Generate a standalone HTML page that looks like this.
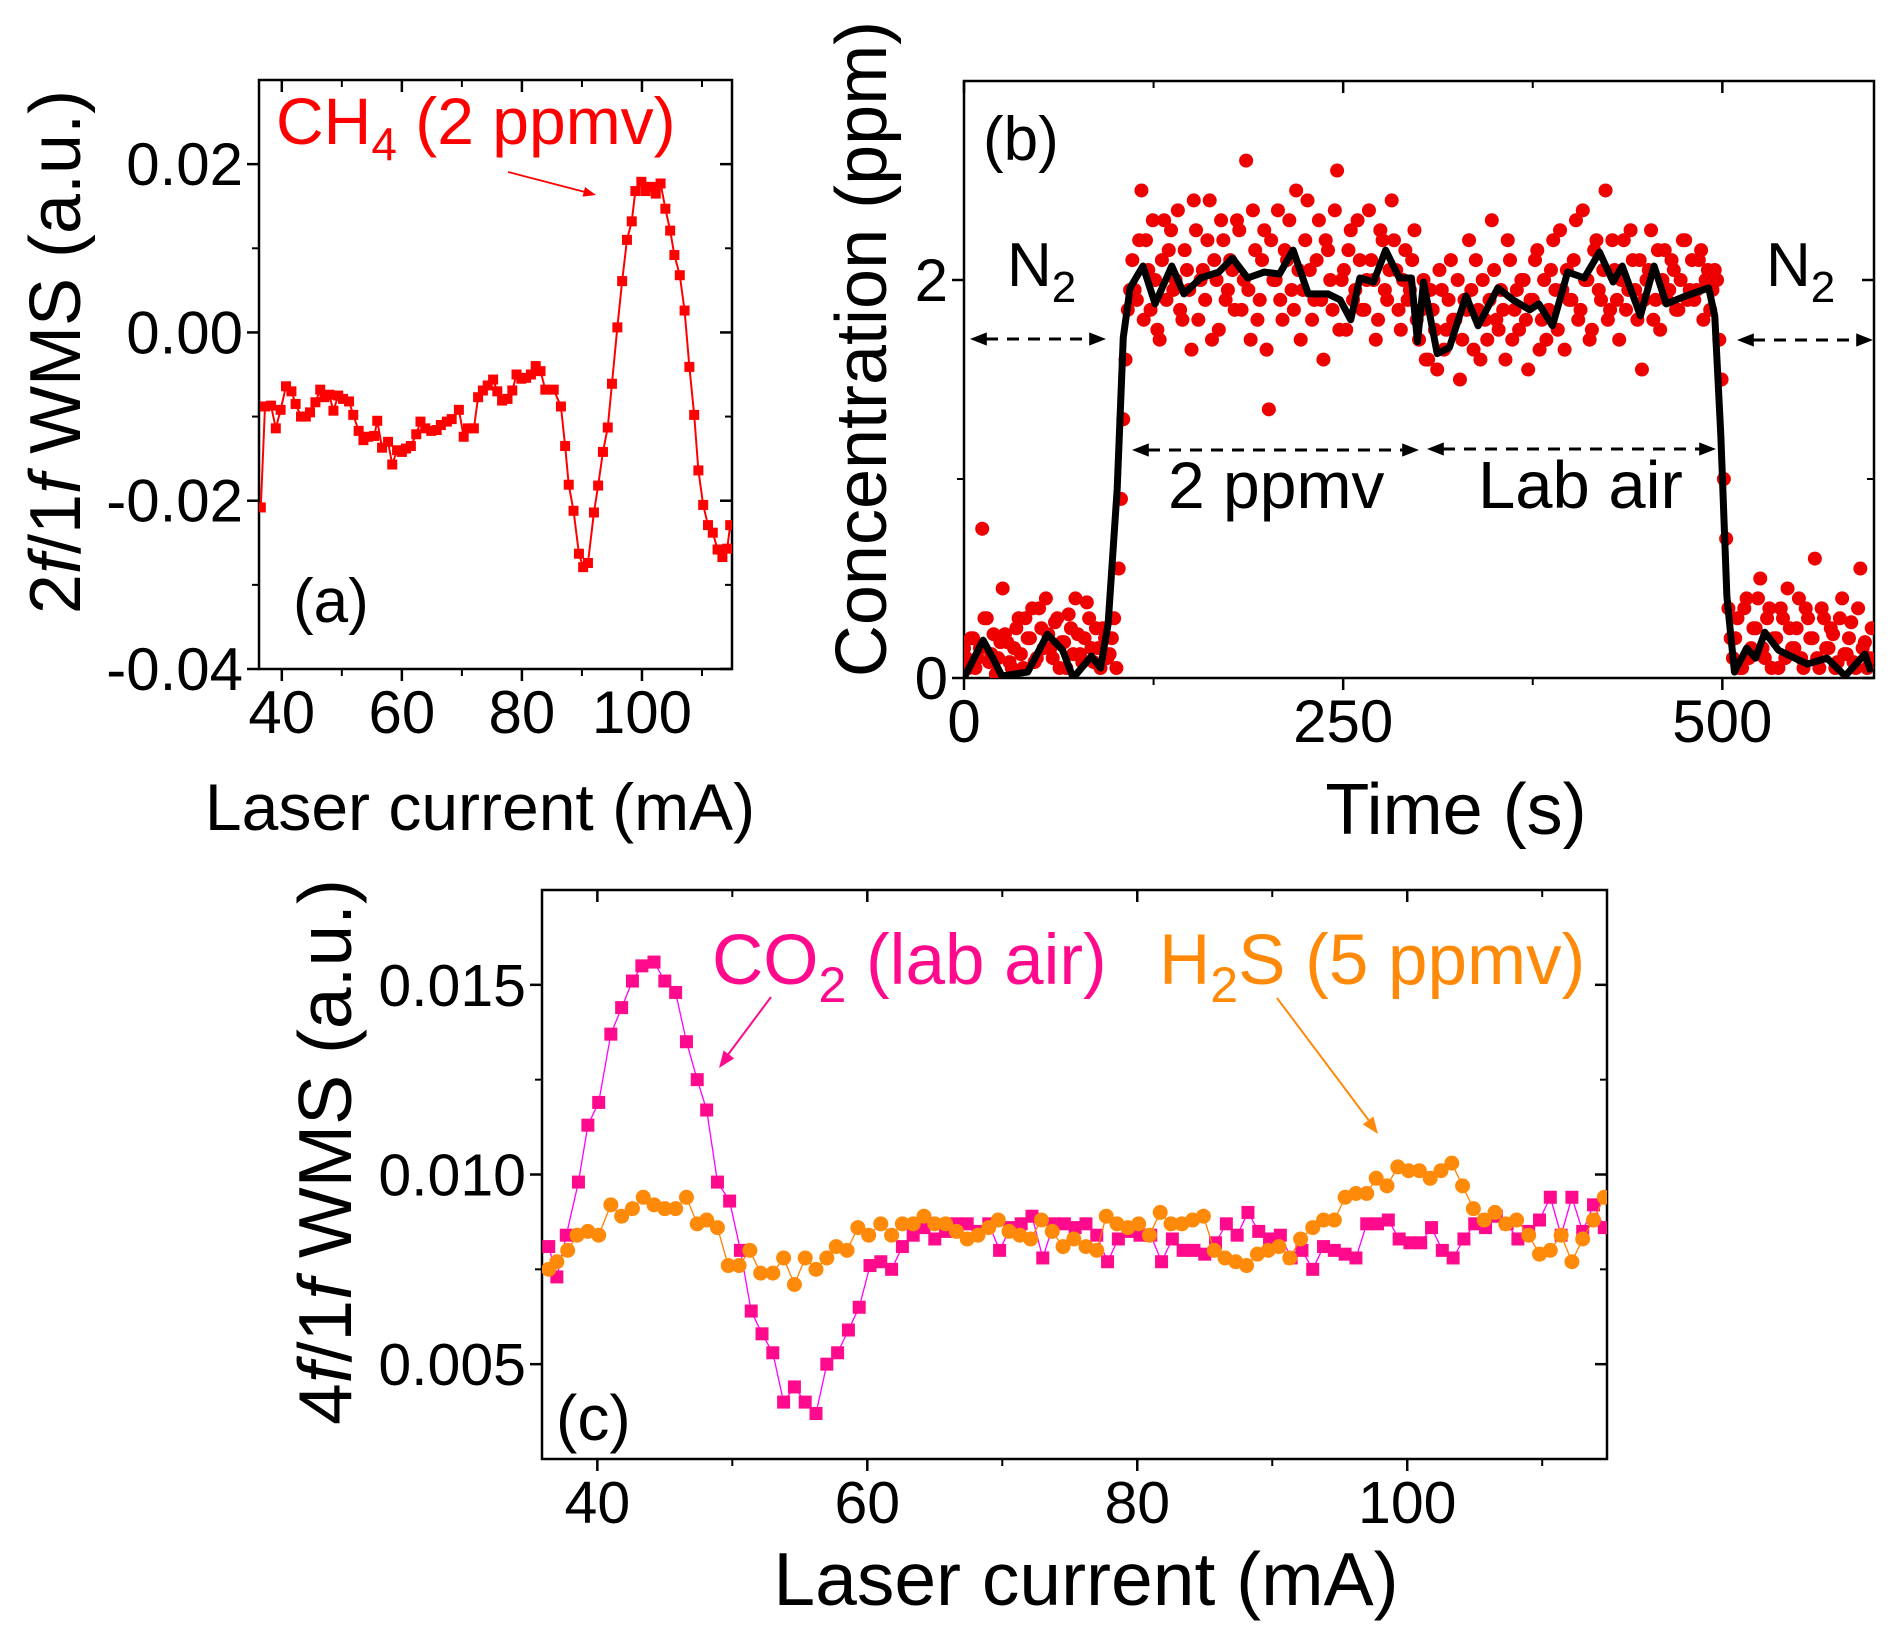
<!DOCTYPE html>
<html><head><meta charset="utf-8"><style>
html,body{margin:0;padding:0;background:#fff;}
svg{display:block;font-family:"Liberation Sans",Arial,sans-serif;}
</style></head>
<body>
<svg id="fig" width="1902" height="1638" viewBox="0 0 1902 1638" xmlns="http://www.w3.org/2000/svg"></svg>
<script>
// ---------- Panel (a) data ----------
const aX = [36.5,37.2,38.2,39,39.8,40.7,41.6,42.3,43.2,44,44.7,45.6,46.4,47.1,47.9,48.6,49.4,50.2,51.2,51.9,52.8,53.6,54.4,55.4,55.9,56.7,57.7,58.4,59.2,60,60.7,61.5,62.4,63.1,63.9,64.9,65.8,66.5,67.5,68.3,69.5,70.3,71,72,72.7,73.5,74.3,75.2,75.9,76.7,77.6,78.4,79.1,79.9,80.7,81.5,82.3,83.1,83.9,85.3,86.5,87.2,87.8,88.6,89.5,90.2,91,92,92.7,93.5,94.3,95,95.9,96.7,97.5,98.3,98.9,99.9,100.6,101.5,102.3,103.1,103.9,104.7,105.4,106.3,107.1,107.9,108.7,109.4,110.2,111,111.8,112.6,113.4,114.2,114.7];
const aY = [-0.0208,-0.0088,-0.0087,-0.0114,-0.0092,-0.0064,-0.0070,-0.0085,-0.0100,-0.0100,-0.0095,-0.0083,-0.0068,-0.0077,-0.0074,-0.0093,-0.0075,-0.0079,-0.0082,-0.0098,-0.0117,-0.0128,-0.0124,-0.0123,-0.0105,-0.0137,-0.0130,-0.0157,-0.0140,-0.0142,-0.0138,-0.0135,-0.0121,-0.0106,-0.0114,-0.0117,-0.0116,-0.0110,-0.0106,-0.0103,-0.0092,-0.0124,-0.0114,-0.0114,-0.0077,-0.0069,-0.0063,-0.0056,-0.0070,-0.0081,-0.0079,-0.0069,-0.0050,-0.0055,-0.0054,-0.0050,-0.0040,-0.0046,-0.0068,-0.0068,-0.0088,-0.0135,-0.0181,-0.0212,-0.0263,-0.0279,-0.0274,-0.0214,-0.0182,-0.0142,-0.0113,-0.0061,0.0006,0.0061,0.0110,0.0132,0.0168,0.0179,0.0168,0.0173,0.0165,0.0177,0.0147,0.0121,0.0092,0.0068,0.0026,-0.0041,-0.0098,-0.0164,-0.0205,-0.0229,-0.0238,-0.0258,-0.0267,-0.0257,-0.0229];
const aXTicks = [40,60,80,100];
const aXTickLabels = ["40","60","80","100"];
const aYTicks = [0.02,0.00,-0.02,-0.04];
const aYTickLabels = ["0.02","0.00","-0.02","-0.04"];

// ---------- Panel (b) data ----------
const bScatterStep = 3;
const bScatterV = [0.15,0.05,0.2,0.1,0.75,0.3,0.12,0.02,0.18,0.22,0.08,0.15,0.3,0.05,0.2,0.35,0.1,0.25,0.4,0.15,0.28,0.05,0.18,0.32,0.12,0.22,0.08,0.38,0.15,0.25,0.05,0.2,0.12,0.3,
0.55,1.3,1.85,
2.1,1.9,2.45,2.2,1.85,2.0,1.7,2.3,2.15,1.95,2.35,1.8,2.05,1.65,2.25,2.0,1.9,2.4,2.1,1.75,2.2,1.95,2.05,2.3,1.85,2.6,1.7,2.15,1.9,2.25,1.35,2.0,2.35,1.8,2.1,1.95,2.45,1.7,2.2,2.05,1.9,2.3,1.6,2.15,1.85,2.55,2.0,1.75,2.25,1.95,2.1,1.85,2.35,2.0,1.8,2.2,1.9,2.4,2.05,1.75,2.15,1.95,2.25,
1.7,2.0,1.6,1.85,1.55,1.95,1.75,2.1,1.8,1.5,1.9,2.2,1.65,1.85,2.0,1.7,2.3,1.8,1.95,1.6,2.1,1.85,1.75,2.0,1.55,1.9,2.15,1.8,1.7,2.05,1.95,2.25,1.65,1.9,2.1,1.8,2.35,2.0,1.75,2.2,1.9,2.45,1.85,2.05,1.7,2.2,1.95,2.1,1.8,1.55,2.0,2.25,1.9,1.75,2.15,1.95,2.05,1.85,2.2,1.9,2.1,1.95,2.15,2.0,1.85,2.05,
1.7,1.0,0.35,
0.1,0.3,0.05,0.4,0.15,0.25,0.5,0.1,0.35,0.2,0.05,0.3,0.45,0.15,0.25,0.1,0.35,0.2,0.6,0.05,0.3,0.15,0.22,0.08,0.4,0.12,0.28,0.05,0.55,0.18,0.1];
const bScatterOffset2 = 1.5;
const bScatterV2 = [0.1,0.2,0.05,0.15,0.3,0.08,0.22,0.1,0.45,0.18,0.05,0.25,0.12,0.3,0.2,0.08,0.35,0.15,0.22,0.1,0.3,0.18,0.05,0.25,0.4,0.12,0.2,0.3,0.08,0.15,0.25,0.1,0.2,0.05,
0.9,1.6,1.95,
1.95,2.2,1.8,2.05,2.3,1.75,2.1,1.9,2.25,2.0,1.85,2.15,1.95,2.4,1.8,2.05,2.2,1.7,2.0,2.3,1.9,2.1,1.85,2.25,2.0,1.95,2.35,1.8,2.1,1.65,2.2,2.0,1.9,2.15,2.3,1.85,2.05,1.95,2.4,1.8,2.1,1.9,2.2,2.0,2.35,1.75,2.05,2.15,1.9,2.3,1.85,2.0,2.1,1.7,2.25,1.95,2.05,2.2,1.85,2.0,1.9,2.1,1.8,
1.85,1.6,1.95,1.75,2.05,1.65,1.9,1.8,2.0,1.7,1.85,1.95,2.1,1.6,1.8,1.9,2.05,1.75,1.85,2.2,1.7,1.95,2.0,1.8,1.9,2.1,1.65,2.0,1.85,2.2,1.75,1.95,2.05,1.9,2.3,1.85,2.0,1.7,2.15,1.95,2.05,1.8,2.2,1.9,2.0,1.85,2.25,1.95,2.1,1.9,2.05,1.8,2.15,2.0,1.9,2.1,1.85,2.0,2.2,1.95,1.9,2.1,1.8,2.05,1.95,2.0,
1.5,0.7,0.2,
0.2,0.05,0.35,0.1,0.25,0.4,0.15,0.3,0.05,0.2,0.35,0.1,0.25,0.15,0.4,0.05,0.3,0.2,0.1,0.35,0.15,0.25,0.05,0.3,0.12,0.2,0.08,0.35,0.15,0.05,0.25];
const bLineT = [0,12.6,19,25,42,55,65,72,84,90,95,101,105,109.5,118,126,137,145,156,168,177,187,198,208,217,227,240,248,255,261,270,278,287,295,299,303,312,320,331,339,352,362,373,379,388,398,409,419,428,434,446,455,463,476,491,495,499,503,508,516,522,528,537,545,556,569,581,594,598];
const bLineV = [0,0.19,0.1,0.01,0.03,0.22,0.14,0,0.11,0.05,0.27,0.95,1.71,1.96,2.07,1.88,2.07,1.93,2.01,2.04,2.11,2.01,2.04,2.03,2.15,1.93,1.93,1.9,1.8,2.01,1.99,2.15,2.01,2.01,1.69,1.99,1.63,1.66,1.92,1.77,1.96,1.9,1.85,1.88,1.77,2.04,2.01,2.14,1.99,2.07,1.82,2.07,1.88,1.92,1.96,1.82,1.22,0.41,0.03,0.15,0.1,0.23,0.14,0.11,0.07,0.1,0.01,0.12,0.03];
const bXTicks = [0,250,500];
const bXTickLabels = ["0","250","500"];
const bYTicks = [0,2];
const bYTickLabels = ["0","2"];

// ---------- Panel (c) data ----------
const cCO2X = [36.4,37,37.7,38.6,39.3,40.1,41,41.8,42.6,43.3,44.2,45,45.8,46.6,47.4,48.1,48.9,49.8,50.6,51.4,52.2,53,53.8,54.6,55.4,56.2,57,57.8,58.6,59.4,60.2,61,61.8,62.6,63.4,64.2,65,65.8,66.6,67.4,68.2,69,69.8,70.6,71.4,72.2,73,73.8,74.6,75.4,76.2,77,77.8,78.6,79.4,80.2,81,81.8,82.6,83.4,84.2,85,85.8,86.6,87.4,88.2,89,89.8,90.6,91.4,92.2,93,93.8,94.6,95.4,96.2,97,97.8,98.6,99.4,100.2,101,101.8,102.6,103.4,104.2,105,105.8,106.6,107.4,108.2,109,109.8,110.6,111.4,112.2,113,113.8,114.6];
const cCO2Y = [0.0081,0.0073,0.0084,0.0098,0.0113,0.0119,0.0137,0.0144,0.0151,0.0155,0.0156,0.0151,0.0148,0.0135,0.0125,0.0117,0.0098,0.0093,0.0080,0.0064,0.0058,0.0053,0.0040,0.0044,0.0040,0.0037,0.0050,0.0053,0.0059,0.0065,0.0076,0.0077,0.0075,0.0081,0.0084,0.0086,0.0083,0.0085,0.0087,0.0087,0.0085,0.0087,0.0080,0.0086,0.0087,0.0089,0.0078,0.0087,0.0087,0.0086,0.0087,0.0084,0.0077,0.0083,0.0085,0.0084,0.0084,0.0077,0.0083,0.0080,0.0080,0.0079,0.0082,0.0087,0.0084,0.0090,0.0085,0.0083,0.0084,0.0078,0.0080,0.0075,0.0081,0.0080,0.0079,0.0078,0.0087,0.0087,0.0088,0.0083,0.0082,0.0082,0.0086,0.0080,0.0078,0.0083,0.0087,0.0086,0.0089,0.0087,0.0083,0.0085,0.0088,0.0094,0.0084,0.0094,0.0085,0.0092,0.0086];
const cH2SX = [36.4,37,37.8,38.5,39.3,40.1,41,41.8,42.6,43.4,44.2,45,45.8,46.6,47.4,48.1,48.9,49.7,50.5,51.3,52.1,53,53.8,54.6,55.4,56.2,57,57.7,58.5,59.3,60.1,61,61.8,62.6,63.4,64.2,65,65.8,66.6,67.4,68.2,69,69.7,70.5,71.3,72.1,72.9,73.7,74.5,75.3,76.2,77,77.7,78.5,79.3,80.1,80.9,81.7,82.5,83.3,84.1,84.9,85.7,86.5,87.3,88.1,88.9,89.7,90.5,91.3,92.1,93,93.8,94.6,95.4,96.2,97,97.7,98.5,99.3,100.1,100.9,101.7,102.5,103.3,104.1,104.9,105.7,106.5,107.3,108.1,109,109.8,110.6,111.4,112.2,113,113.8,114.6];
const cH2SY = [0.0075,0.0077,0.0080,0.0084,0.0085,0.0084,0.0092,0.0089,0.0091,0.0094,0.0092,0.0091,0.0091,0.0094,0.0087,0.0088,0.0086,0.0076,0.0076,0.0080,0.0074,0.0074,0.0078,0.0071,0.0078,0.0075,0.0078,0.0081,0.0080,0.0086,0.0084,0.0087,0.0084,0.0087,0.0087,0.0089,0.0087,0.0087,0.0085,0.0083,0.0084,0.0086,0.0088,0.0085,0.0084,0.0083,0.0088,0.0085,0.0081,0.0083,0.0081,0.0080,0.0089,0.0087,0.0086,0.0087,0.0084,0.0090,0.0087,0.0087,0.0088,0.0089,0.0080,0.0078,0.0077,0.0076,0.0079,0.0080,0.0081,0.0078,0.0083,0.0086,0.0088,0.0088,0.0094,0.0095,0.0095,0.0099,0.0097,0.0102,0.0101,0.0101,0.0099,0.0101,0.0103,0.0097,0.0091,0.0088,0.0090,0.0087,0.0088,0.0084,0.0079,0.0080,0.0084,0.0077,0.0083,0.0088,0.0094];
const cXTicks = [40,60,80,100];
const cXTickLabels = ["40","60","80","100"];
const cYTicks = [0.015,0.010,0.005];
const cYTickLabels = ["0.015","0.010","0.005"];

const NS = "http://www.w3.org/2000/svg";
const svg = document.getElementById('fig');
function mk(tag, attrs, parent){
  const e = document.createElementNS(NS, tag);
  for (const k in attrs) e.setAttribute(k, attrs[k]);
  (parent||svg).appendChild(e);
  return e;
}
function scale(d0,d1,r0,r1){ return v => r0 + (v-d0)/(d1-d0)*(r1-r0); }

function frame(g, L, T, R, B, xs, ys, xTicks, xLabels, xMinor, yTicks, yLabels, yMinor, fs){
  const fr = mk('rect',{x:L,y:T,width:R-L,height:B-T,fill:'none',stroke:'#000','stroke-width':2.5},g);
  
  
  xTicks.forEach((v,i)=>{
    const x = xs(v);
    mk('line',{x1:x,y1:B,x2:x,y2:B+12,stroke:'#000','stroke-width':2.5},g);
    mk('line',{x1:x,y1:T,x2:x,y2:T+12,stroke:'#000','stroke-width':2.5},g);
    const t = mk('text',{x:x,y:B+64,'font-size':fs,'text-anchor':'middle'},g);
    t.textContent = xLabels[i];
    
    
  });
  xMinor.forEach(v=>{
    const x = xs(v);
    mk('line',{x1:x,y1:B,x2:x,y2:B+7,stroke:'#000','stroke-width':2},g);
    mk('line',{x1:x,y1:T,x2:x,y2:T+7,stroke:'#000','stroke-width':2},g);
  });
  yTicks.forEach((v,i)=>{
    const y = ys(v);
    mk('line',{x1:L-12,y1:y,x2:L,y2:y,stroke:'#000','stroke-width':2.5},g);
    mk('line',{x1:R-12,y1:y,x2:R,y2:y,stroke:'#000','stroke-width':2.5},g);
    const t = mk('text',{x:L-16,y:y+21,'font-size':fs,'text-anchor':'end'},g);
    t.textContent = yLabels[i];
    
    
  });
  yMinor.forEach(v=>{
    const y = ys(v);
    mk('line',{x1:L-7,y1:y,x2:L,y2:y,stroke:'#000','stroke-width':2},g);
    mk('line',{x1:R-7,y1:y,x2:R,y2:y,stroke:'#000','stroke-width':2},g);
  });
}
function arrowHead(g, x, y, dir, color, size){
  const s = size||14;
  const bx = x - Math.cos(dir)*s*1.4, by = y - Math.sin(dir)*s*1.4;
  const px = -Math.sin(dir)*s*0.55, py = Math.cos(dir)*s*0.55;
  return mk('polygon',{points:`${x},${y} ${bx+px},${by+py} ${bx-px},${by-py}`,fill:color},g);
}

// ================= Panel (a) =================
const gA = mk('g',{});


const aL=259,aR=732,aT=80,aB=669;
const axs = scale(36.2,115,aL,aR), ays = scale(-0.04,0.03,aB,aT);
frame(gA,aL,aT,aR,aB,axs,ays,aXTicks,aXTickLabels,[50,70,90,110],aYTicks,aYTickLabels,[0.01,-0.01,-0.03],60);
{
  const clip = mk('clipPath',{id:'clipA'},gA);
  mk('rect',{x:aL,y:aT,width:aR-aL,height:aB-aT},clip);
  const s = mk('g',{'clip-path':'url(#clipA)'},gA);
  
  
  mk('polyline',{points:aX.map((x,i)=>axs(x)+','+ays(aY[i])).join(' '),fill:'none',stroke:'#ff0000','stroke-width':2},s);
  aX.forEach((x,i)=>{
    const r = mk('rect',{x:axs(x)-5,y:ays(aY[i])-5,width:10,height:10,fill:'#ff0000'},s);
    
    
  });
}
{
  const t = mk('text',{x:276,y:144,'font-size':66,fill:'#ff0000'},gA);
  t.innerHTML = 'CH<tspan font-size="46" dy="16">4</tspan><tspan dy="-16"> (2 ppmv)</tspan>';
  
  
  mk('line',{x1:508,y1:172,x2:585,y2:192,stroke:'#ff0000','stroke-width':1.8},gA);
  arrowHead(gA,596,195,Math.atan2(23,88),'#ff0000',9);
  const p = mk('text',{x:293,y:622,'font-size':62},gA);
  p.textContent='(a)';
  
  
  const xt = mk('text',{x:480,y:830,'font-size':66,'text-anchor':'middle'},gA);
  xt.textContent='Laser current (mA)';
  
  
  const yt = mk('text',{x:0,y:0,'font-size':72,'text-anchor':'middle',transform:'translate(80,352) rotate(-90)'},gA);
  yt.innerHTML='2<tspan font-style="italic">f</tspan>/1<tspan font-style="italic">f</tspan> WMS (a.u.)';
  
  
}

// ================= Panel (b) =================
const gB = mk('g',{});


const bL=964,bR=1874,bT=81,bB=678;
const bxs = scale(0,600,bL,bR), bys = scale(0,3,bB,bT);
frame(gB,bL,bT,bR,bB,bxs,bys,bXTicks,bXTickLabels,[125,375],bYTicks,bYTickLabels,[1],60);
{
  const clip = mk('clipPath',{id:'clipB'},gB);
  mk('rect',{x:bL,y:bT,width:bR-bL,height:bB-bT},clip);
  const s = mk('g',{'clip-path':'url(#clipB)'},gB);
  
  
  bScatterV.forEach((v,i)=>{
    const c = mk('circle',{cx:bxs(i*bScatterStep),cy:bys(v),r:7,fill:'#ee0000'},s);
    
    
  });
  bScatterV2.forEach((v,i)=>{
    const c = mk('circle',{cx:bxs(i*bScatterStep+bScatterOffset2),cy:bys(v),r:7,fill:'#ee0000'},s);
    
    
  });
  const ln = mk('polyline',{points:bLineT.map((t,i)=>bxs(t)+','+bys(bLineV[i])).join(' '),fill:'none',stroke:'#000','stroke-width':7,'stroke-linejoin':'round'},s);
  
  
}
function dblArrow(g,x1,x2,y,name){
  const grp = mk('g',{},g);
  
  
  mk('line',{x1:x1+16,y1:y,x2:x2-16,y2:y,stroke:'#000','stroke-width':3,'stroke-dasharray':'12,9'},grp);
  arrowHead(grp,x1,y,Math.PI,'#000',12);
  arrowHead(grp,x2,y,0,'#000',12);
}
{
  const p = mk('text',{x:983,y:160,'font-size':62},gB);
  p.textContent='(b)';
  
  
  const n1 = mk('text',{x:1007,y:286,'font-size':62},gB);
  n1.innerHTML='N<tspan font-size="44" dy="16">2</tspan>';
  
  
  const n2 = mk('text',{x:1766,y:286,'font-size':62},gB);
  n2.innerHTML='N<tspan font-size="44" dy="16">2</tspan>';
  
  
  dblArrow(gB,970,1106,339,'n2-arrow-left');
  dblArrow(gB,1737,1873,340,'n2-arrow-right');
  dblArrow(gB,1132,1419,450,'2ppmv-arrow');
  dblArrow(gB,1427,1716,449,'lab-air-arrow');
  const t1 = mk('text',{x:1168,y:508,'font-size':66},gB);
  t1.textContent='2 ppmv';
  
  
  const t2 = mk('text',{x:1478,y:508,'font-size':67},gB);
  t2.textContent='Lab air';
  
  
  const xt = mk('text',{x:1456,y:834,'font-size':72,'text-anchor':'middle'},gB);
  xt.textContent='Time (s)';
  
  
  const yt = mk('text',{x:0,y:0,'font-size':72,'text-anchor':'middle',transform:'translate(886,349) rotate(-90)'},gB);
  yt.textContent='Concentration (ppm)';
  
  
}

// ================= Panel (c) =================
const gC = mk('g',{});


const cL=542,cR=1607,cT=890,cB=1459;
const cxs = scale(35.9,114.8,cL,cR), cys = scale(0.0025,0.0175,cB,cT);
frame(gC,cL,cT,cR,cB,cxs,cys,cXTicks,cXTickLabels,[50,70,90,110],cYTicks,cYTickLabels,[0.0125,0.0075],59);
{
  const clip = mk('clipPath',{id:'clipC'},gC);
  mk('rect',{x:cL,y:cT,width:cR-cL,height:cB-cT},clip);
  const s1 = mk('g',{'clip-path':'url(#clipC)'},gC);
  
  
  mk('polyline',{points:cCO2X.map((x,i)=>cxs(x)+','+cys(cCO2Y[i])).join(' '),fill:'none',stroke:'#ff00ff','stroke-width':1.3},s1);
  cCO2X.forEach((x,i)=>{
    const r = mk('rect',{x:cxs(x)-6.5,y:cys(cCO2Y[i])-6.5,width:13,height:13,fill:'#ff0a8c'},s1);
    
    
  });
  const s2 = mk('g',{'clip-path':'url(#clipC)'},gC);
  
  
  mk('polyline',{points:cH2SX.map((x,i)=>cxs(x)+','+cys(cH2SY[i])).join(' '),fill:'none',stroke:'#ff8000','stroke-width':1.3},s2);
  cH2SX.forEach((x,i)=>{
    const c = mk('circle',{cx:cxs(x),cy:cys(cH2SY[i]),r:7.5,fill:'#ff8a0a'},s2);
    
    
  });
}
{
  const t = mk('text',{x:712,y:984,'font-size':71,fill:'#ff0a8c'},gC);
  t.innerHTML='CO<tspan font-size="50" dy="18">2</tspan><tspan dy="-18"> (lab air)</tspan>';
  
  
  mk('line',{x1:771,y1:997,x2:727,y2:1056,stroke:'#ff0a8c','stroke-width':2},gC);
  arrowHead(gC,719,1068,Math.atan2(71,-52),'#ff0a8c',12);
  const t2 = mk('text',{x:1159,y:984,'font-size':71,fill:'#ff8a0a'},gC);
  t2.innerHTML='H<tspan font-size="50" dy="18">2</tspan><tspan dy="-18">S (5 ppmv)</tspan>';
  
  
  mk('line',{x1:1277,y1:998,x2:1370,y2:1122,stroke:'#ff8a0a','stroke-width':2},gC);
  arrowHead(gC,1378,1134,Math.atan2(136,100),'#ff8a0a',12);
  const p = mk('text',{x:556,y:1440,'font-size':64},gC);
  p.textContent='(c)';
  
  
  const xt = mk('text',{x:1086,y:1605,'font-size':75,'text-anchor':'middle'},gC);
  xt.textContent='Laser current (mA)';
  
  
  const yt = mk('text',{x:0,y:0,'font-size':75,'text-anchor':'middle',transform:'translate(351,1152) rotate(-90)'},gC);
  yt.innerHTML='4<tspan font-style="italic">f</tspan>/1<tspan font-style="italic">f</tspan> WMS (a.u.)';
  
  
}
</script>
</body></html>
